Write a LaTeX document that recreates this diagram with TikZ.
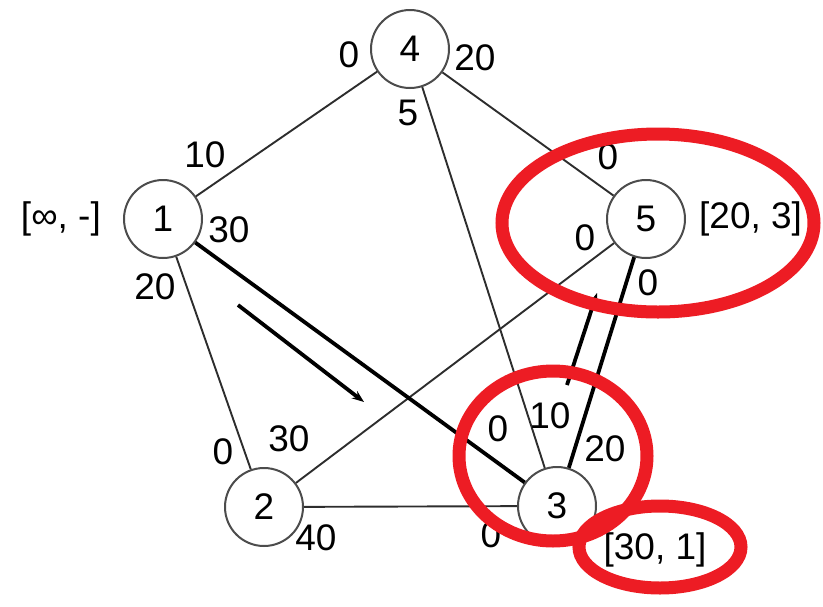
\documentclass[tikz,border=0pt]{standalone}
\usepackage{fontspec}
\setmainfont{Liberation Sans}
\usepackage{tikz}
\usetikzlibrary{arrows.meta,positioning}
\definecolor{PaintRed}{RGB}{237,28,36}
\definecolor{edgegray}{RGB}{45,45,45}

\begin{document}
\begin{tikzpicture}[x=1pt,y=-1pt,
  font=\fontsize{37}{40}\selectfont,
  vtx/.style={circle,draw=black!70,line width=2pt,minimum size=78pt,inner sep=0pt,fill=white},
  edge/.style={draw=edgegray,line width=1.9pt},
  heavy/.style={draw=black,line width=3.8pt},
  flow/.style={draw=black,line width=3.8pt,-{Stealth[length=12pt,width=9pt]}},
  wt/.style={inner sep=0pt},
  lbl/.style={inner sep=0pt},
  hilite/.style={draw=PaintRed,line width=13pt}
]
\useasboundingbox (0,0) rectangle (823,606);
% vertices
\node[vtx] (n4) at (410,49) {4};
\node[vtx] (n1) at (163,219) {1};
\node[vtx] (n5) at (646,219) {5};
\node[vtx] (n2) at (264,507) {2};
\node[vtx] (n3) at (557,506) {3};
% edges
\begin{scope}[on background layer/.try]
\draw[edge] (n1) -- (n4);
\draw[edge] (n4) -- (n5);
\draw[edge] (n4) -- (n3);
\draw[edge] (n1) -- (n2);
\draw[edge] (n5) -- (n2);
\draw[edge] (n2) -- (n3);
\draw[heavy] (n1) -- (n3);
\draw[heavy] (n5) -- (n3);
\end{scope}
% direction of the path
\coordinate (f1a) at (238,305);
\coordinate (f1b) at (364,402);
\coordinate (f2a) at (567,385);
\coordinate (f2b) at (597,293);
\draw[flow] (f1a) -- (f1b);
\draw[flow] (f2a) -- (f2b);
% weights
\node[wt] (w14) at (205,155) {10};
\node[wt] (w13) at (229,230) {30};
\node[wt] (w12) at (155,287) {20};
\node[wt] (w41) at (349,55) {0};
\node[wt] (w45) at (475,58) {20};
\node[wt] (w43) at (408,113) {5};
\node[wt] (w54) at (608,157) {0};
\node[wt] (w52) at (585,238) {0};
\node[wt] (w53) at (648,283) {0};
\node[wt] (w21) at (223,452) {0};
\node[wt] (w25) at (289,439) {30};
\node[wt] (w23) at (316,538) {40};
\node[wt] (w31) at (498,429) {0};
\node[wt] (w34) at (550,416) {10};
\node[wt] (w35) at (605,449) {20};
\node[wt] (w32) at (491,535) {0};
% labels
\node[lbl,left=22pt of n1] (l1) {[∞, -]};
\node[lbl,right=13pt of n5] (l5) {[20, 3]};
\node[lbl] (l3) at (655,550) {[30, 1]};
% red marks
\draw[hilite] (658,223) ellipse [x radius=156, y radius=89];
\draw[hilite] (553,456) ellipse [x radius=94, y radius=85];
\draw[hilite] (660,547) ellipse [x radius=81, y radius=41];
\end{tikzpicture}
\end{document}
